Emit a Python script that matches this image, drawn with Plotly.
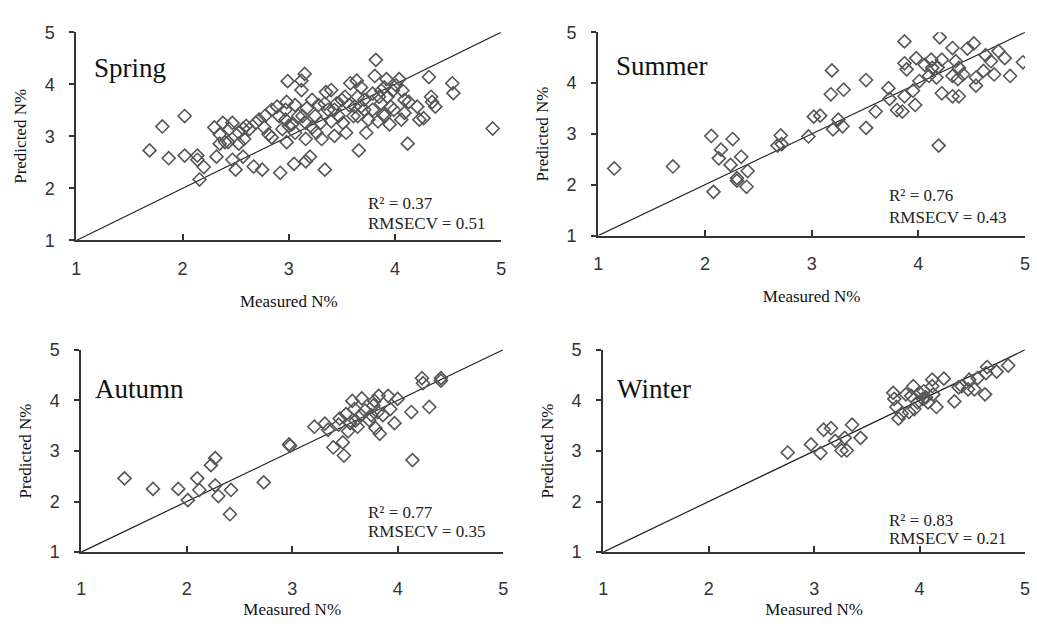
import plotly.graph_objects as go

# ---------------- data ----------------
spring_x = [1.69,1.81,1.87,2.02,2.02,2.14,2.16,2.20,2.14,2.30,2.32,2.35,2.35,2.38,2.43,2.47,2.50,2.47,2.53,2.57,
            2.58,2.57,2.63,2.69,2.67,2.75,2.77,2.78,2.84,2.89,2.92,2.94,2.97,2.99,2.98,2.98,3.03,3.05,3.06,3.12,
            3.15,3.12,3.16,3.16,3.13,3.20,3.17,3.22,3.25,3.28,3.30,3.31,3.34,3.35,3.37,3.40,3.43,3.45,3.47,3.51,
            3.54,3.57,3.58,3.64,3.65,3.66,3.65,3.68,3.71,3.73,3.75,3.79,3.82,3.81,3.84,3.87,3.89,3.92,3.93,3.95,
            3.98,3.99,4.01,4.04,4.06,4.07,4.12,4.13,4.21,4.23,4.27,4.32,4.34,4.35,4.38,4.54,4.55,4.92,3.34,3.22,
            3.26,3.09,2.91,2.84,2.72,2.60,2.44,2.40,3.79,3.87,3.71,3.62,3.61,3.50,3.43,3.90,3.96,3.16,3.40,3.53,
            2.97,3.00,3.06,2.81,2.53,3.90,3.68,3.85,4.09,4.09]
spring_y = [2.73,3.19,2.58,3.39,2.63,2.63,2.17,2.41,2.55,3.17,2.61,2.86,3.04,3.26,2.89,2.55,2.36,3.26,3.07,2.61,
            2.95,3.15,3.14,3.26,2.42,2.36,3.17,3.40,2.98,3.57,2.30,3.14,3.32,4.06,3.66,2.89,3.23,2.47,3.60,3.89,
            4.20,4.07,2.95,2.52,3.39,2.61,3.54,3.17,3.39,3.60,3.26,2.95,2.36,3.85,3.51,3.29,3.01,3.63,3.39,3.26,
            3.07,3.60,4.02,4.07,3.76,2.73,3.39,3.57,3.70,3.07,3.32,3.51,4.47,4.16,3.29,3.63,3.42,4.10,3.76,3.23,
            3.88,3.51,3.98,4.10,3.32,3.88,2.86,3.66,3.57,3.32,3.35,4.14,3.76,3.66,3.57,4.02,3.83,3.15,3.63,3.70,
            3.07,3.39,3.39,3.51,3.32,3.20,3.14,2.89,3.82,3.88,3.51,3.57,3.39,3.70,3.51,3.39,3.57,3.26,3.89,3.76,
            3.51,3.20,3.07,3.04,2.86,3.94,3.94,3.76,3.45,3.70]

summer_x = [1.15,1.70,2.06,2.08,2.15,2.13,2.26,2.24,2.30,2.30,2.34,2.40,2.39,2.68,2.71,2.72,2.97,3.02,3.08,3.18,
            3.19,3.20,3.25,3.29,3.30,3.51,3.51,3.60,3.72,3.73,3.80,3.85,3.87,3.87,3.89,3.87,3.95,3.97,3.98,4.01,
            4.06,4.10,4.12,4.17,4.20,4.19,4.22,4.22,4.18,4.32,4.32,4.32,4.38,4.35,4.38,4.37,4.42,4.46,4.52,4.54,
            4.54,4.61,4.63,4.68,4.71,4.75,4.81,4.86,4.98,4.13]
summer_y = [2.32,2.36,2.96,1.86,2.69,2.52,2.90,2.39,2.13,2.08,2.55,2.27,1.96,2.77,2.97,2.80,2.95,3.34,3.36,3.78,
            4.25,3.09,3.28,3.15,3.87,4.06,3.12,3.44,3.90,3.69,3.47,3.44,4.82,4.39,4.27,3.74,3.85,3.57,4.49,4.04,
            4.36,4.14,4.46,4.11,4.90,2.77,4.46,3.80,4.31,4.69,4.14,3.74,3.74,4.43,4.30,4.08,4.17,4.68,4.78,3.95,
            4.11,4.24,4.55,4.43,4.17,4.63,4.49,4.14,4.41,4.30]

autumn_x = [1.41,1.68,1.92,2.01,2.10,2.12,2.23,2.27,2.27,2.30,2.42,2.41,2.73,2.97,2.98,3.21,3.31,3.34,3.39,3.44,
            3.45,3.48,3.49,3.51,3.53,3.55,3.57,3.59,3.62,3.65,3.66,3.69,3.73,3.77,3.78,3.79,3.81,3.82,3.83,3.86,
            3.91,3.93,3.97,4.00,4.13,4.14,4.23,4.24,4.30,4.41,4.41,3.60,3.75]
autumn_y = [2.46,2.25,2.25,2.03,2.46,2.23,2.72,2.86,2.32,2.11,2.23,1.75,2.38,3.13,3.10,3.48,3.54,3.42,3.07,3.52,
            3.64,3.17,2.91,3.73,3.39,3.55,3.99,3.83,3.48,3.71,4.04,3.80,3.61,3.90,3.99,3.45,3.77,4.09,3.34,3.71,
            4.09,3.83,3.55,4.03,3.77,2.82,4.44,4.34,3.87,4.44,4.39,3.60,3.71]

winter_x = [2.75,2.97,3.06,3.09,3.16,3.20,3.26,3.29,3.31,3.36,3.44,3.75,3.76,3.78,3.80,3.83,3.87,3.90,3.92,3.94,
            3.95,3.98,4.00,4.03,4.06,4.08,4.12,4.12,4.13,4.16,4.23,4.33,4.40,4.47,4.46,4.52,4.55,4.62,4.64,4.63,
            4.73,4.84,4.04,4.37]
winter_y = [2.97,3.13,2.96,3.42,3.45,3.20,3.01,3.26,3.01,3.52,3.26,4.15,4.03,3.87,3.64,3.74,4.12,3.77,4.09,4.28,
            3.83,3.96,4.15,4.03,4.06,3.96,4.28,4.41,4.12,3.87,4.43,3.98,4.28,4.41,4.22,4.22,4.44,4.12,4.66,4.54,
            4.57,4.69,4.18,4.26]

seasons = ["Spring", "Summer", "Autumn", "Winter"]
xs = [spring_x, summer_x, autumn_x, winter_x]
ys = [spring_y, summer_y, autumn_y, winter_y]
r2_vals = ["0.37", "0.76", "0.77", "0.83"]
rmsecv_vals = ["0.51", "0.43", "0.35", "0.21"]
tick_vals = [1, 2, 3, 4, 5]
line_1to1 = [1, 5]

# ---------------- layout geometry ----------------
W, H = 1037, 628
px_boxes = [  # (left, right, top, bottom) in pixels
    (72, 501, 23, 238),
    (599, 1030, 23, 233),
    (77, 503, 351, 560),
    (604, 1030, 351, 560),
]
x_label_standoff = [11, 11, 19, 19]
x_title_standoff = [17, 17, 5, 5]
label_pos = [(1.15, 4.31), (1.15, 4.33), (1.11, 4.23), (1.11, 4.23)]
stat_pos = [(3.73, 1.71, 1.32), (3.71, 1.78, 1.36), (3.70, 1.78, 1.40), (3.69, 1.63, 1.27)]

fig = go.Figure()
serif = "Liberation Serif, Times New Roman, serif"
sans = "Liberation Sans, Arial, sans-serif"
annotations = []

for i in range(4):
    n = "" if i == 0 else str(i + 1)
    xa, ya = "x" + n, "y" + n
    l, r, t, b = px_boxes[i]
    fig.add_trace(go.Scatter(x=line_1to1, y=line_1to1, mode="lines",
                             line=dict(color="#222222", width=1.2),
                             xaxis=xa, yaxis=ya, showlegend=False, hoverinfo="skip"))
    fig.add_trace(go.Scatter(x=xs[i], y=ys[i], mode="markers",
                             marker=dict(symbol="diamond-open", size=10,
                                         color="#555555", line=dict(width=1.6, color="#555555")),
                             xaxis=xa, yaxis=ya, showlegend=False))
    axcommon = dict(range=[1, 5], tickvals=tick_vals, showgrid=False, zeroline=False,
                    showline=True, linecolor="#333333", linewidth=2, tickcolor="#333333",
                    tickwidth=2, ticklen=6,
                    tickfont=dict(family=sans, size=18, color="#333333"))
    fig.layout["xaxis" + n] = dict(axcommon, domain=[l / W, r / W], anchor=ya, ticks="inside",
                                   ticklabelstandoff=x_label_standoff[i],
                                   title=dict(text="Measured N%", standoff=x_title_standoff[i],
                                              font=dict(family=serif, size=17, color="#111111")))
    fig.layout["yaxis" + n] = dict(axcommon, domain=[1 - b / H, 1 - t / H], anchor=xa, ticks="outside",
                                   ticklen=5, ticklabelstandoff=11,
                                   title=dict(text="Predicted N%", standoff=14,
                                              font=dict(family=serif, size=17, color="#111111")))
    lx, ly = label_pos[i]
    annotations.append(dict(x=lx, y=ly, xref=xa, yref=ya, text=seasons[i], showarrow=False,
                            xanchor="left", yanchor="middle",
                            font=dict(family=serif, size=27, color="#111111")))
    sx, sy1, sy2 = stat_pos[i]
    annotations.append(dict(x=sx, y=sy1, xref=xa, yref=ya, text="R² = " + r2_vals[i],
                            showarrow=False, xanchor="left", yanchor="middle",
                            font=dict(family=serif, size=17, color="#222222")))
    annotations.append(dict(x=sx, y=sy2, xref=xa, yref=ya, text="RMSECV = " + rmsecv_vals[i],
                            showarrow=False, xanchor="left", yanchor="middle",
                            font=dict(family=serif, size=17, color="#222222")))

fig.update_layout(width=W, height=H, margin=dict(l=0, r=0, t=0, b=0),
                  paper_bgcolor="white", plot_bgcolor="white",
                  annotations=annotations, showlegend=False)

fig.write_html("out.html")
